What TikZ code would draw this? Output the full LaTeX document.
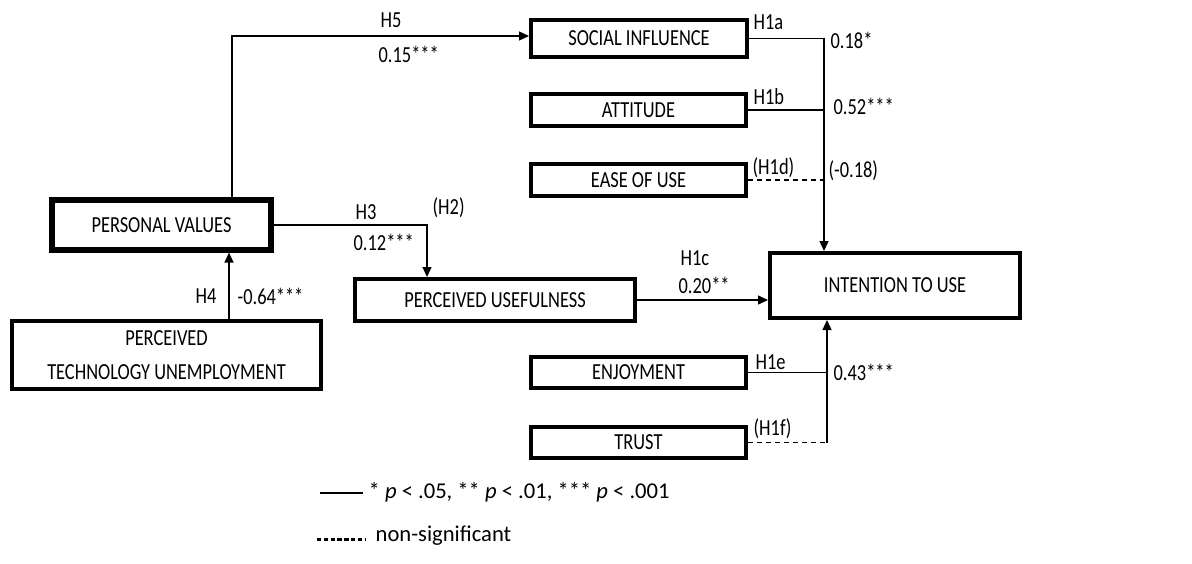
\documentclass[tikz,border=0pt]{standalone}
\usepackage{fontspec}
\setmainfont{Carlito}[FakeStretch=0.8]
\newfontfamily\legendfont{Carlito}
\usetikzlibrary{arrows.meta}
\begin{document}
\begin{tikzpicture}[x=0.5pt, y=-0.5pt, line width=0.65pt,
    >={Triangle[length=5pt,width=4.5pt]},
    box/.style={draw, line width=2pt, inner sep=0pt, minimum width=107.5pt, minimum height=16pt, font=\fontsize{11.5}{13}\selectfont},
    lbl/.style={inner sep=0pt, anchor=west, font=\fontsize{11.5}{13}\selectfont},
    legtext/.style={inner sep=0pt, anchor=west, font=\legendfont\fontsize{11.3}{13}\selectfont},
    nsdash/.style={dash pattern=on 2.5pt off 2pt}]
\useasboundingbox (0,0) rectangle (1192,563);
\node[box, minimum width=108pt, minimum height=18.5pt] (si) at (639,38.5) {SOCIAL INFLUENCE};
\node[box] (att) at (638.5,110) {ATTITUDE};
\node[box] (ease) at (638.5,180) {EASE OF USE};
\node[box, minimum height=15.5pt] (enj) at (638.5,372.5) {ENJOYMENT};
\node[box, minimum height=15.5pt] (trust) at (638.5,442.5) {TRUST};
\node[box, minimum width=140pt, minimum height=21pt] (pu) at (495,300) {PERCEIVED USEFULNESS};
\node[box, minimum width=125pt, minimum height=32.5pt] (itu) at (895,285.5) {INTENTION TO USE};
\node[box, line width=2.6pt, minimum width=109.5pt, minimum height=25pt] (pv) at (161.5,225) {PERSONAL VALUES};
\node[box, minimum width=154.5pt, minimum height=34pt, align=center, font=\fontsize{11.5}{17}\selectfont] (ptu) at (166.5,355) {PERCEIVED\\TECHNOLOGY UNEMPLOYMENT};
\coordinate (h5) at (232,36);
\coordinate (h3) at (427,226);
\coordinate (h4) at (229,0);
\coordinate (jt) at (824,36);
\coordinate (jb) at (827,443);
\draw[->] (h5 |- pv.north) -- (h5) -- (h5 -| si.west);
\draw[->] (pv.east) -| (h3 |- pu.north);
\draw[->] (h4 |- ptu.north) -- (h4 |- pv.south);
\draw[->] (pu.east) -- (pu.east -| itu.west);
\draw[->] (si.east) -| (jt |- itu.north);
\draw (att.east) -- (att.east -| jt);
\draw[nsdash] (ease.east) -- (ease.east -| jt);
\draw (enj.east) -- (enj.east -| jb);
\draw[nsdash] (trust.east) -- (trust.east -| jb);
\draw[->] (trust.east -| jb) -- (jb |- itu.south);
\node[lbl] (lh5) at (380,20) {H5};
\node[lbl] (lc5) at (378,54) {0.15***};
\node[lbl] (lh1a) at (753,22) {H1a};
\node[lbl] (lc1a) at (830,40) {0.18*};
\node[lbl] (lh1b) at (753,97) {H1b};
\node[lbl] (lc1b) at (833,106) {0.52***};
\node[lbl] (lh1d) at (752,168) {(H1d)};
\node[lbl] (lc1d) at (828,171) {(-0.18)};
\node[lbl] (lh2) at (432,208) {(H2)};
\node[lbl] (lh3) at (355,212) {H3};
\node[lbl] (lc3) at (353,242) {0.12***};
\node[lbl] (lh4) at (195,296) {H4};
\node[lbl] (lc4) at (237,296) {-0.64***};
\node[lbl] (lh1c) at (680,258) {H1c};
\node[lbl] (lc1c) at (678,285) {0.20**};
\node[lbl] (lh1e) at (755,362) {H1e};
\node[lbl] (lc1e) at (833,372) {0.43***};
\node[lbl] (lh1f) at (753,429) {(H1f)};
\coordinate (ls1) at (320,493);
\coordinate (ls2) at (363,493);
\coordinate (ld1) at (317,539);
\coordinate (ld2) at (365,539);
\draw (ls1) -- (ls2);
\node[legtext] (sig) at (368,492) {* \textit{p} < .05, ** \textit{p} < .01, *** \textit{p} < .001};
\draw[line width=1.5pt, dash pattern=on 2.2pt off 1.2pt] (ld1) -- (ld2);
\node[legtext] (nsig) at (375,536) {non-significant};
\end{tikzpicture}
\end{document}
